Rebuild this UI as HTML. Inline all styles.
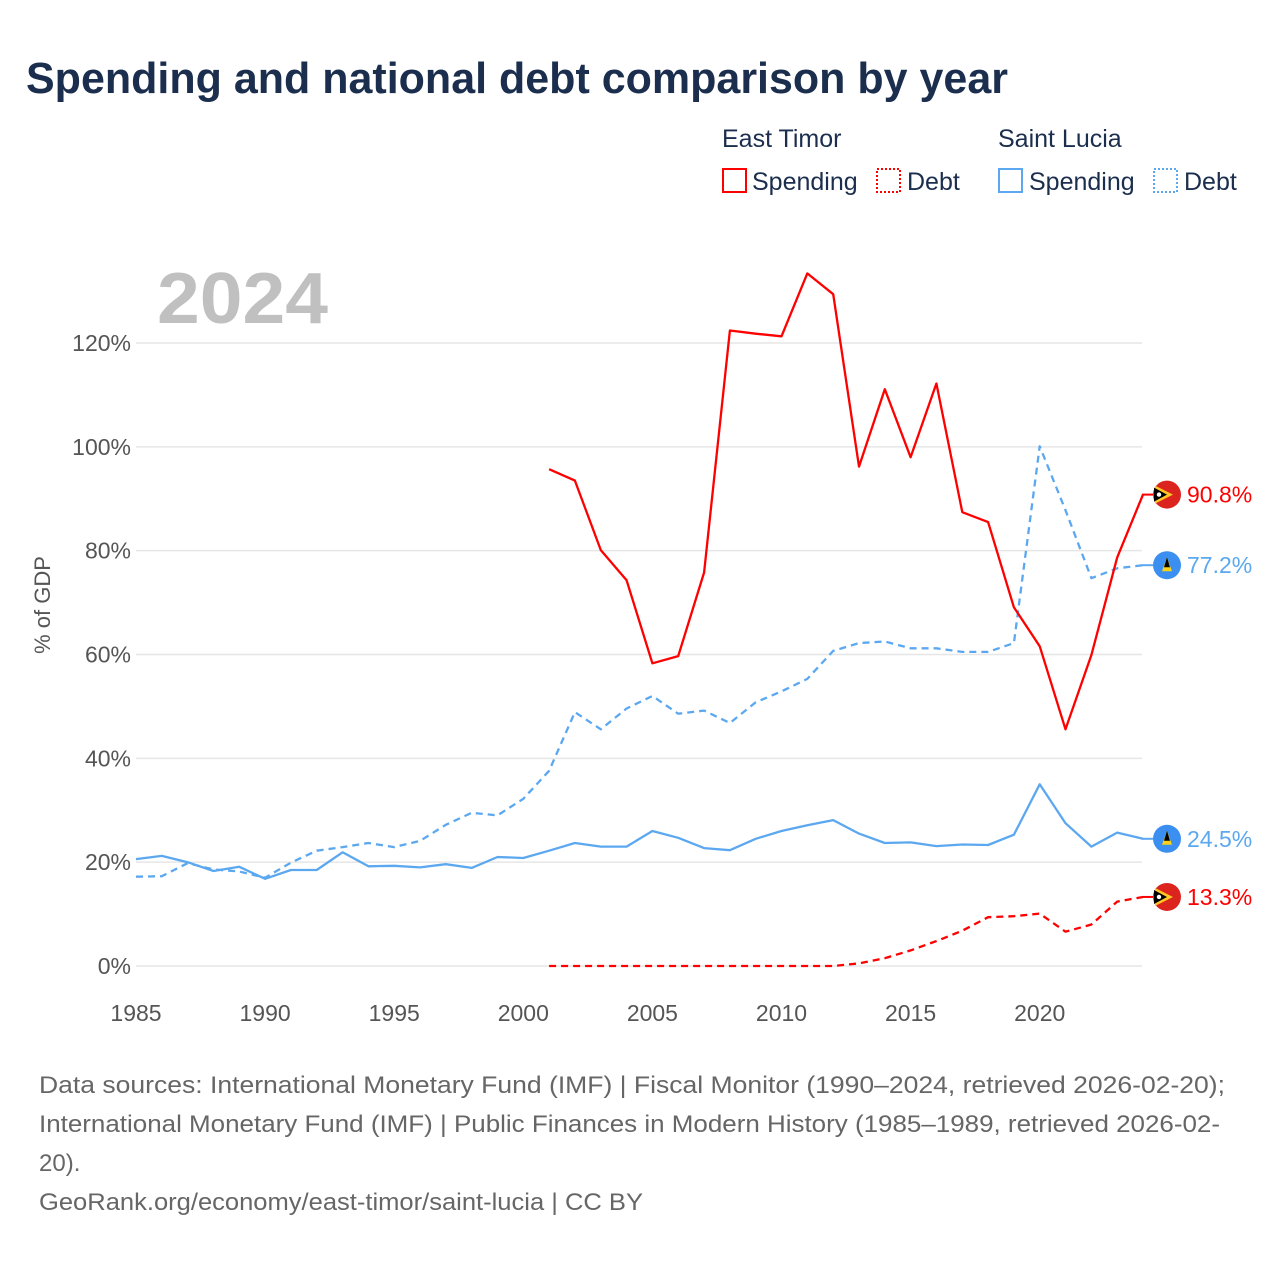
<!DOCTYPE html>
<html><head><meta charset="utf-8">
<style>
body{margin:0;background:#fff;font-family:"Liberation Sans",sans-serif;}
#wrap{position:relative;width:1280px;height:1280px;overflow:hidden;background:#fff;}
</style></head>
<body>
<div id="wrap">
<svg id="chart" width="1280" height="1280" xmlns="http://www.w3.org/2000/svg">
<text x="26" y="93" font-size="44" font-weight="bold" fill="#1b2e4e" textLength="982" lengthAdjust="spacingAndGlyphs">Spending and national debt comparison by year</text>
<g font-size="25" fill="#1b2e4e">
<text x="722" y="147">East Timor</text>
<text x="998" y="147">Saint Lucia</text>
<g><rect x="723" y="169" width="23" height="23" fill="none" stroke="#f00" stroke-width="2"/><text x="752" y="190">Spending</text></g>
<g><rect x="877" y="169" width="23" height="23" fill="none" stroke="#f00" stroke-width="2" stroke-dasharray="2,2"/><text x="907" y="190">Debt</text></g>
<g><rect x="999" y="169" width="23" height="23" fill="none" stroke="#5ca8f0" stroke-width="2"/><text x="1029" y="190">Spending</text></g>
<g><rect x="1154" y="169" width="23" height="23" fill="none" stroke="#5ca8f0" stroke-width="2" stroke-dasharray="2,2"/><text x="1184" y="190">Debt</text></g>
</g>
<text x="157" y="323" font-size="72" font-weight="bold" fill="#c0c0c0" textLength="171" lengthAdjust="spacingAndGlyphs">2024</text>
<text transform="translate(50,605) rotate(-90)" text-anchor="middle" font-size="22" fill="#555">% of GDP</text>
<g id="grid"></g><g id="series"></g><g id="labels"></g>
<g font-size="24" fill="#666">
<text x="39" y="1093" textLength="1186" lengthAdjust="spacingAndGlyphs">Data sources: International Monetary Fund (IMF) | Fiscal Monitor (1990–2024, retrieved 2026-02-20);</text>
<text x="39" y="1132" textLength="1181" lengthAdjust="spacingAndGlyphs">International Monetary Fund (IMF) | Public Finances in Modern History (1985–1989, retrieved 2026-02-</text>
<text x="39" y="1171">20).</text>
<text x="39" y="1210" textLength="604" lengthAdjust="spacingAndGlyphs">GeoRank.org/economy/east-timor/saint-lucia | CC BY</text>
</g>
</svg>
</div>
<script>
const yTicks=[0,20,40,60,80,100,120];
const xTicks=[1985,1990,1995,2000,2005,2010,2015,2020];
const lcYears=[1985,1986,1987,1988,1989,1990,1991,1992,1993,1994,1995,1996,1997,1998,1999,2000,2001,2002,2003,2004,2005,2006,2007,2008,2009,2010,2011,2012,2013,2014,2015,2016,2017,2018,2019,2020,2021,2022,2023,2024];
const lcSpending=[20.6,21.2,20.0,18.3,19.1,16.8,18.5,18.5,21.9,19.2,19.3,19.0,19.6,18.9,21.0,20.8,22.2,23.7,23.0,23.0,26.0,24.7,22.7,22.3,24.5,26.0,27.1,28.1,25.5,23.7,23.8,23.1,23.4,23.3,25.3,35.0,27.5,23.0,25.7,24.5];
const lcDebt=[17.2,17.3,19.8,18.6,18.2,17.0,19.9,22.2,22.9,23.7,22.9,24.1,27.2,29.5,29.0,32.2,37.6,48.9,45.6,49.6,52.0,48.6,49.2,46.8,50.8,52.9,55.3,60.7,62.2,62.5,61.2,61.2,60.5,60.5,62.2,100.1,87.8,74.7,76.6,77.2];
const tlYears=[2001,2002,2003,2004,2005,2006,2007,2008,2009,2010,2011,2012,2013,2014,2015,2016,2017,2018,2019,2020,2021,2022,2023,2024];
const tlSpending=[95.7,93.5,80.1,74.3,58.3,59.7,75.8,122.4,121.8,121.3,133.4,129.4,96.2,111.1,98.0,112.2,87.4,85.5,69.1,61.6,45.6,59.9,78.7,90.8];
const tlDebt=[0,0,0,0,0,0,0,0,0,0,0,0,0.5,1.5,3.0,4.8,6.8,9.4,9.6,10.1,6.6,8.0,12.4,13.3];

const NS='http://www.w3.org/2000/svg';
const X=y=>136+(y-1985)*(1143-136)/39;
const Y=v=>966-v*(966-343)/120;
function mk(tag,attrs,parent){const e=document.createElementNS(NS,tag);for(const k in attrs)e.setAttribute(k,attrs[k]);parent.appendChild(e);return e;}
const grid=document.getElementById('grid'),series=document.getElementById('series'),labels=document.getElementById('labels');
yTicks.forEach(t=>{
 const l=mk('line',{x1:136,x2:1142,y1:Y(t),y2:Y(t),stroke:'#e6e6e6','stroke-width':1.5},grid);
 
 
 const tx=mk('text',{x:131,y:Y(t)+8,'text-anchor':'end','font-size':23,fill:'#555'},grid);
 tx.textContent=t+'%';
 
 
});
xTicks.forEach(t=>{
 const tx=mk('text',{x:X(t),y:1021,'text-anchor':'middle','font-size':23,fill:'#555'},grid);
 tx.textContent=t;
 
 
});
function line(years,vals,color,dash,name){
 const d=years.map((y,i)=>(i?'L':'M')+X(y).toFixed(1)+','+Y(vals[i]).toFixed(1)).join('');
 const p=mk('path',{d:d,fill:'none',stroke:color,'stroke-width':2.3,'stroke-linejoin':'round'},series);
 if(dash)p.setAttribute('stroke-dasharray','7,5');
 
 
}
line(lcYears,lcSpending,'#5ca8f0',false,'line-saint-lucia-spending');
line(lcYears,lcDebt,'#5ca8f0',true,'line-saint-lucia-debt');
line(tlYears,tlSpending,'#f00',false,'line-east-timor-spending');
line(tlYears,tlDebt,'#f00',true,'line-east-timor-debt');
function endLabel(v,country,color,name){
 const cy=Y(v),cx=1167;
 const g=mk('g',{},labels);
 
 
 mk('line',{x1:1142,x2:1153,y1:cy,y2:cy,stroke:color,'stroke-width':2},g);
 if(country==='tl'){
  mk('circle',{cx:cx,cy:cy,r:14,fill:'#dc241f'},g);
  mk('clipPath',{id:'c'+name},g);
  mk('path',{d:`M${cx-12},${cy-9} L${cx+6},${cy} L${cx-12},${cy+9}Z`,fill:'#ffc726'},g);
  mk('path',{d:`M${cx-13},${cy-7} L${cx},${cy} L${cx-13},${cy+7}Z`,fill:'#000'},g);
  mk('circle',{cx:cx-8,cy:cy,r:2.2,fill:'#fff'},g);
 }else{
  mk('circle',{cx:cx,cy:cy,r:14,fill:'#3b8ff0'},g);
  mk('path',{d:`M${cx},${cy-8} L${cx+5},${cy+6} L${cx-5},${cy+6}Z`,fill:'#fcd116'},g);
  mk('path',{d:`M${cx},${cy-8} L${cx+3},${cy+2} L${cx-3},${cy+2}Z`,fill:'#000'},g);
 }
 const t=mk('text',{x:1187,y:cy+8,'font-size':23,fill:color},g);
 t.textContent=v.toFixed(1)+'%';
}
endLabel(tlSpending[tlSpending.length-1],'tl','#f00','end-label-east-timor-spending');
endLabel(lcDebt[lcDebt.length-1],'lc','#5ca8f0','end-label-saint-lucia-debt');
endLabel(lcSpending[lcSpending.length-1],'lc','#5ca8f0','end-label-saint-lucia-spending');
endLabel(tlDebt[tlDebt.length-1],'tl','#f00','end-label-east-timor-debt');
</script>
</body></html>
